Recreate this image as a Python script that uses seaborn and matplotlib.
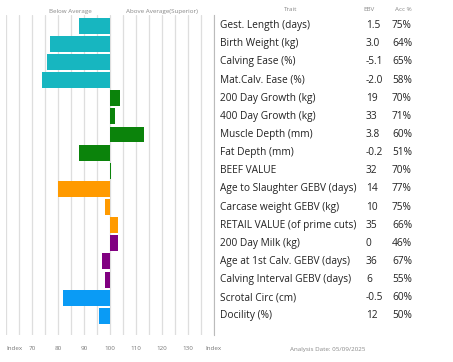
import numpy as np
import pandas as pd
import matplotlib
matplotlib.use('Agg')
import matplotlib.pyplot as plt
import matplotlib.transforms as mtransforms
import seaborn as sns

# trait table
traits = ['Gest. Length (days)', 'Birth Weight (kg)', 'Calving Ease (%)', 'Mat.Calv. Ease (%)',
          '200 Day Growth (kg)', '400 Day Growth (kg)', 'Muscle Depth (mm)', 'Fat Depth (mm)',
          'BEEF VALUE', 'Age to Slaughter GEBV (days)', 'Carcase weight GEBV (kg)',
          'RETAIL VALUE (of prime cuts)', '200 Day Milk (kg)', 'Age at 1st Calv. GEBV (days)',
          'Calving Interval GEBV (days)', 'Scrotal Circ (cm)', 'Docility (%)']
ebv = ['1.5', '3.0', '-5.1', '-2.0', '19', '33', '3.8', '-0.2', '32', '14', '10', '35',
       '0', '36', '6', '-0.5', '12']
acc = ['75%', '64%', '65%', '58%', '70%', '71%', '60%', '51%', '70%', '77%', '75%', '66%',
       '46%', '67%', '55%', '60%', '50%']
index_val = [88, 77, 76, 74, 104, 102, 113, 88, 100.6, 80, 98, 103, 103, 97, 98, 82, 96]
group = ['calving'] * 4 + ['growth'] * 5 + ['carcase'] * 3 + ['maternal'] * 3 + ['other'] * 2
xtick_vals = [60, 70, 80, 90, 100, 110, 120, 130, 140]
xtick_labels = ['Index', '70', '80', '90', '100', '110', '120', '130', 'Index']

pal = {'calving': '#17b6c0', 'growth': '#0b830b', 'carcase': '#ff9a00',
       'maternal': '#810081', 'other': '#0a9bf5'}

df = pd.DataFrame({'trait': traits, 'index': index_val, 'group': group})
df['delta'] = df['index'] - 100  # bars grow out of the average (100)

sns.set_style('white')
plt.rcParams['font.family'] = ['Open Sans', 'DejaVu Sans']

fig = plt.figure(figsize=(4.53, 3.62), dpi=100)
ax = fig.add_axes([0.013, 0.075, 0.459, 0.884])

sns.barplot(data=df, x='delta', y='trait', hue='group', palette=pal, dodge=False,
            width=0.88, legend=False, ax=ax, zorder=3, saturation=1, linewidth=0)

ax.set_xlim(-40, 40)
ax.set_ylim(17.05, -0.6)
# light grid every 5 index points
ax.set_xticks([v - 100 for v in xtick_vals])
ax.set_xticklabels(xtick_labels)
ax.set_xticks(np.arange(-35, 40, 10), minor=True)
ax.grid(True, which='both', axis='x', color='#dedede', lw=0.9)
ax.set_axisbelow(True)
ax.set_yticks([])
ax.set_xlabel('')
ax.set_ylabel('')
ax.tick_params(axis='x', which='both', length=0, labelsize=4.5, labelcolor='#777777', pad=8)
ax.get_xticklabels()[0].set_horizontalalignment('left')
for s in ['top', 'left', 'bottom']:
    ax.spines[s].set_visible(False)
ax.spines['right'].set_color('#bbbbbb')
ax.spines['right'].set_linewidth(0.8)

ax.text(-15, -0.78, 'Below Average', fontsize=4.5, color='#888888', ha='center', va='center')
ax.text(20, -0.78, 'Above Average(Superior)', fontsize=4.5, color='#888888', ha='center', va='center')

tr = mtransforms.blended_transform_factory(fig.transFigure, ax.transData)
ax.text(291 / 453, -0.9, 'Trait', transform=tr, fontsize=4.5, color='#888888', ha='center', va='center')
ax.text(369 / 453, -0.9, 'EBV', transform=tr, fontsize=4.5, color='#888888', ha='center', va='center')
ax.text(403 / 453, -0.9, 'Acc %', transform=tr, fontsize=4.5, color='#888888', ha='center', va='center')
for i in range(len(traits)):
    ax.text(220 / 453, i, traits[i], transform=tr, fontsize=7.3, color='#222222', va='center')
    ax.text(366 / 453, i, ebv[i], transform=tr, fontsize=7.3, color='#222222', va='center')
    ax.text(392 / 453, i, acc[i], transform=tr, fontsize=7.3, color='#222222', va='center')

fig.text(328 / 453, 1 - 350 / 362, 'Analysis Date: 05/09/2025', fontsize=4.5,
         color='#888888', ha='center', va='center')

plt.savefig('out.png', dpi=100)
